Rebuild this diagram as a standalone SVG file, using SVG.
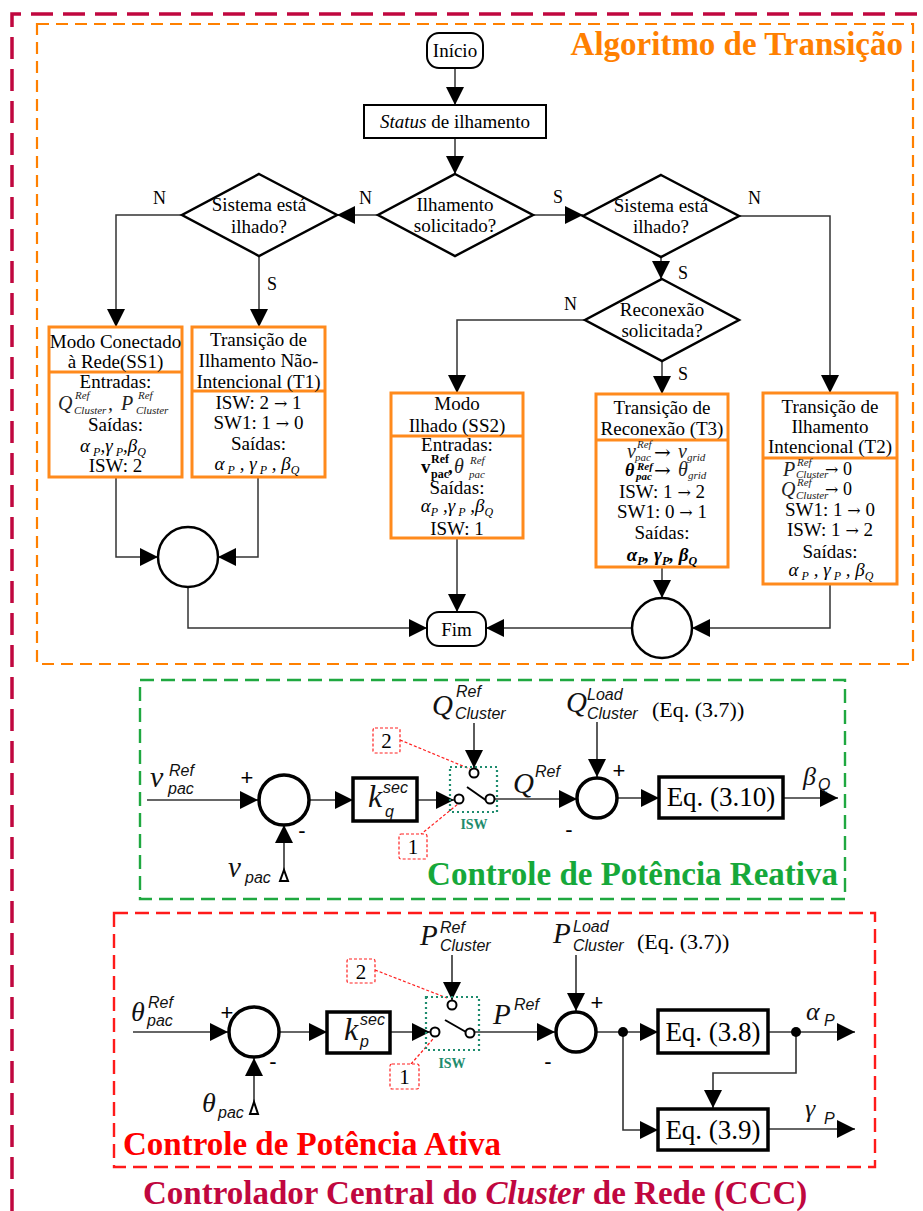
<svg xmlns="http://www.w3.org/2000/svg" width="923" height="1211" viewBox="0 0 923 1211">
<defs>
  <marker id="ah" viewBox="0 0 18 18" markerWidth="18" markerHeight="18" markerUnits="userSpaceOnUse" refX="18" refY="9" orient="auto">
    <path d="M0,0 L18,9 L0,18 z" fill="#000"/>
  </marker>
  <style>
    .t { font-family: "Liberation Serif", serif; font-size: 19px; fill: #000; text-anchor: middle; }
    .lbl { font-family: "Liberation Serif", serif; font-size: 18px; fill: #000; }
    .ar { font-family: "DejaVu Serif", serif; font-size: 16px; }
    .ar2 { font-family: "DejaVu Serif", serif; font-size: 20px; }
    .i { font-style: italic; }
    .ms { font-family: "Liberation Serif", serif; font-style: italic; font-size: 11px; fill: #222; }
    .mi { font-family: "Liberation Serif", serif; font-style: italic; font-size: 20px; fill: #222; }
    .sb { font-size: 12px; }
    .ob { fill: #fff; stroke: #FF8A1C; stroke-width: 3; }
    .obl { fill: none; stroke: #FF8A1C; stroke-width: 3; }
    .dm { fill: #fff; stroke: #000; stroke-width: 2.5; }
    .fl { fill: none; stroke: #333; stroke-width: 1.5; }
    .ln { fill: none; stroke: #333; stroke-width: 1.6; }
    .thk { fill: #fff; stroke: #000; stroke-width: 3.5; }
    .mI { font-family: "Liberation Serif", serif; font-style: italic; fill: #111; }
    .mS { font-family: "Liberation Sans", sans-serif; font-style: italic; fill: #111; font-size: 16px; }
    .eq { font-family: "Liberation Serif", serif; font-size: 27px; fill: #000; text-anchor: middle; }
    .pm { font-family: "Liberation Sans", sans-serif; font-size: 22px; fill: #000; text-anchor: middle; }
    .sw { fill: #fff; stroke: #000; stroke-width: 2; }
    .isw { fill: none; stroke: #1E8C6E; stroke-width: 2.2; stroke-dasharray: 2 3; }
    .iswt { font-family: "Liberation Serif", serif; font-weight: bold; font-size: 14px; fill: #1E8C6E; text-anchor: middle; }
    .rb { fill: #fff; stroke: #FF2020; stroke-width: 1.2; stroke-dasharray: 3 2; }
    .rl { fill: none; stroke: #FF2020; stroke-width: 1.2; stroke-dasharray: 3 2; }
    .num { font-family: "Liberation Serif", serif; font-size: 21px; fill: #000; text-anchor: middle; }
    .ttl { font-family: "Liberation Serif", serif; font-weight: bold; font-size: 33px; }
  </style>
</defs>

<rect width="923" height="1211" fill="#fff"/>

<!-- frames -->
<g id="frames">
  <path d="M12,1211 V14 H923" fill="none" stroke="#C0073F" stroke-width="3.5" stroke-dasharray="22 10"/>
  <rect x="37" y="24" width="876" height="640" fill="none" stroke="#FF8000" stroke-width="2.2" stroke-dasharray="12 7"/>
  <rect x="140" y="680" width="705" height="219" fill="none" stroke="#1FA840" stroke-width="2.4" stroke-dasharray="14 7"/>
  <rect x="114" y="913" width="761" height="254" fill="none" stroke="#FF1A1A" stroke-width="2.4" stroke-dasharray="14 7"/>
  <text class="ttl" x="903" y="55" font-size="32.7" text-anchor="end" fill="#FF8000">Algoritmo de Transição</text>
  <text class="ttl" x="838" y="885" text-anchor="end" fill="#16A83A">Controle de Potência Reativa</text>
  <text class="ttl" x="123" y="1155" fill="#FF0000">Controle de Potência Ativa</text>
  <text class="ttl" x="143" y="1204" font-size="34" fill="#C0073F">Controlador Central do <tspan font-style="italic">Cluster</tspan> de Rede (CCC)</text>
</g>

<!-- flowchart connectors -->
<g id="flow-connectors">
  <path class="fl" d="M455,68 V105" marker-end="url(#ah)"/>
  <path class="fl" d="M455,138 V174" marker-end="url(#ah)"/>
  <path class="fl" d="M378,215 H337" marker-end="url(#ah)"/>
  <path class="fl" d="M182,215 H116 V327" marker-end="url(#ah)"/>
  <path class="fl" d="M259,256 V327" marker-end="url(#ah)"/>
  <path class="fl" d="M533,215 H583" marker-end="url(#ah)"/>
  <path class="fl" d="M739,216 H830 V393" marker-end="url(#ah)"/>
  <path class="fl" d="M661,257 V279" marker-end="url(#ah)"/>
  <path class="fl" d="M585,320 H457 V393" marker-end="url(#ah)"/>
  <path class="fl" d="M662,361 V394" marker-end="url(#ah)"/>
  <path class="fl" d="M116,477 V557 H158" marker-end="url(#ah)"/>
  <path class="fl" d="M258,477 V557 H218" marker-end="url(#ah)"/>
  <path class="fl" d="M188,587 V628 H427" marker-end="url(#ah)"/>
  <path class="fl" d="M457,538 V612" marker-end="url(#ah)"/>
  <path class="fl" d="M662,567 V598" marker-end="url(#ah)"/>
  <path class="fl" d="M830,584 V628 H692" marker-end="url(#ah)"/>
  <path class="fl" d="M632,628 H486" marker-end="url(#ah)"/>
  <text class="lbl" x="153" y="204">N</text>
  <text class="lbl" x="359" y="204">N</text>
  <text class="lbl" x="267" y="290">S</text>
  <text class="lbl" x="553" y="203">S</text>
  <text class="lbl" x="748" y="204">N</text>
  <text class="lbl" x="678" y="279">S</text>
  <text class="lbl" x="564" y="310">N</text>
  <text class="lbl" x="678" y="380">S</text>
</g>

<g id="inicio">
  <rect x="427" y="33" width="56" height="35" rx="12" fill="#fff" stroke="#000" stroke-width="2"/>
  <text class="t" x="455" y="57">Início</text>
</g>

<g id="status">
  <rect x="364" y="105" width="182" height="33" fill="#fff" stroke="#000" stroke-width="2"/>
  <text class="t" x="455" y="128"><tspan class="i">Status</tspan> de ilhamento</text>
</g>

<g id="d-ilhamento">
  <polygon class="dm" points="455,174 533,215 455,256 378,215"/>
  <text class="t" x="455" y="211">Ilhamento</text>
  <text class="t" x="455" y="232">solicitado?</text>
</g>

<g id="d-ilhado-esq">
  <polygon class="dm" points="259,174 337,215 259,256 182,215"/>
  <text class="t" x="259" y="211">Sistema está</text>
  <text class="t" x="259" y="233">ilhado?</text>
</g>

<g id="d-ilhado-dir">
  <polygon class="dm" points="661,175 739,216 661,257 583,216"/>
  <text class="t" x="661" y="212">Sistema está</text>
  <text class="t" x="661" y="233">ilhado?</text>
</g>

<g id="d-reconexao">
  <polygon class="dm" points="662,279 739,320 662,361 585,320"/>
  <text class="t" x="662" y="316">Reconexão</text>
  <text class="t" x="662" y="337">solicitada?</text>
</g>

<g id="ss1">
  <rect class="ob" x="49" y="327" width="133" height="150"/>
  <line class="obl" x1="49" y1="372" x2="182" y2="372"/>
  <text class="t" x="115.5" y="348">Modo Conectado</text>
  <text class="t" x="115.5" y="368">à Rede(SS1)</text>
  <text class="t" x="115.5" y="388">Entradas:</text>
  <text class="mi" x="58" y="410">Q</text>
  <text class="ms" x="75" y="399">Ref</text>
  <text class="ms" x="74" y="414">Cluster</text>
  <text class="mi" x="108" y="410">,</text>
  <text class="mi" x="121" y="410">P</text>
  <text class="ms" x="138" y="399">Ref</text>
  <text class="ms" x="136" y="414">Cluster</text>
  <text class="t" x="115.5" y="431">Saídas:</text>
  <text class="t i" x="113" y="452" font-size="21">α<tspan class="sb" dy="4"> P</tspan><tspan dy="-4">,γ</tspan><tspan class="sb" dy="4"> P</tspan><tspan dy="-4">,β</tspan><tspan class="sb" dy="4">Q</tspan></text>
  <text class="t" x="115.5" y="472">ISW: 2</text>
</g>

<g id="t1">
  <rect class="ob" x="192" y="327" width="133" height="150"/>
  <line class="obl" x1="192" y1="391" x2="325" y2="391"/>
  <text class="t" x="258.5" y="346">Transição de</text>
  <text class="t" x="258.5" y="367">Ilhamento Não-</text>
  <text class="t" x="258.5" y="388">Intencional (T1)</text>
  <text class="t" x="258.5" y="409">ISW: 2 <tspan class="ar">→</tspan> 1</text>
  <text class="t" x="258.5" y="429">SW1: 1 <tspan class="ar">→</tspan> 0</text>
  <text class="t" x="258.5" y="450">Saídas:</text>
  <text class="t i" x="257" y="470" font-size="21" fill="#222">α<tspan class="sb" dy="4"> P</tspan><tspan dy="-4"> , γ</tspan><tspan class="sb" dy="4"> P</tspan><tspan dy="-4"> , β</tspan><tspan class="sb" dy="4">Q</tspan></text>
</g>

<g id="merge-esq">
  <circle cx="188" cy="557" r="30" fill="#fff" stroke="#000" stroke-width="2.5"/>
</g>

<g id="ss2">
  <rect class="ob" x="391" y="393" width="132" height="145"/>
  <line class="obl" x1="391" y1="436" x2="523" y2="436"/>
  <text class="t" x="457" y="410">Modo</text>
  <text class="t" x="457" y="432">Ilhado (SS2)</text>
  <text class="t" x="457" y="451">Entradas:</text>
  <text x="421" y="473" font-family="Liberation Serif, serif" font-weight="bold" font-size="19">v</text>
  <text x="431" y="463" font-family="Liberation Serif, serif" font-weight="bold" font-size="12">Ref</text>
  <text x="431" y="478" font-family="Liberation Serif, serif" font-weight="bold" font-size="12">pac</text>
  <text x="448" y="473" font-family="Liberation Serif, serif" font-weight="bold" font-size="19">,</text>
  <text class="mi" x="454" y="473" font-size="20">θ</text>
  <text class="ms" x="470" y="464" font-size="13">Ref</text>
  <text class="ms" x="469" y="478" font-size="13">pac</text>
  <text class="t" x="457" y="494">Saídas:</text>
  <text class="t i" x="457" y="512" font-size="21" fill="#222">α<tspan class="sb" dy="4">P</tspan><tspan dy="-4"> ,γ</tspan><tspan class="sb" dy="4"> P</tspan><tspan dy="-4"> ,β</tspan><tspan class="sb" dy="4">Q</tspan></text>
  <text class="t" x="457" y="535">ISW: 1</text>
</g>

<g id="t3">
  <rect class="ob" x="596" y="394" width="132" height="173"/>
  <line class="obl" x1="596" y1="440" x2="728" y2="440"/>
  <text class="t" x="662" y="414">Transição de</text>
  <text class="t" x="662" y="435">Reconexão (T3)</text>
  <text class="mi" x="627" y="458" font-size="18">v</text>
  <text class="ms" x="637" y="448" font-size="11">Ref</text>
  <text class="ms" x="635" y="461" font-size="11">pac</text>
  <text class="ar2" x="654" y="459">→</text>
  <text class="mi" x="678" y="458" font-size="18">v</text>
  <text class="ms" x="687" y="461" font-size="11">grid</text>
  <text x="625" y="476" font-family="Liberation Serif, serif" font-style="italic" font-weight="bold" font-size="18">θ</text>
  <text x="637" y="470" font-family="Liberation Serif, serif" font-style="italic" font-weight="bold" font-size="11">Ref</text>
  <text x="636" y="480" font-family="Liberation Serif, serif" font-style="italic" font-weight="bold" font-size="11">pac</text>
  <text class="ar2" x="654" y="477">→</text>
  <text class="mi" x="678" y="476" font-size="18">θ</text>
  <text class="ms" x="688" y="479" font-size="11">grid</text>
  <text class="t" x="662" y="498">ISW: 1 <tspan class="ar">→</tspan>  2</text>
  <text class="t" x="662" y="518">SW1: 0 <tspan class="ar">→</tspan> 1</text>
  <text class="t" x="662" y="539">Saídas:</text>
  <text class="t i" x="662" y="561" font-size="20" font-weight="bold">α<tspan class="sb" dy="4">P</tspan><tspan dy="-4">, γ</tspan><tspan class="sb" dy="4">P</tspan><tspan dy="-4">, β</tspan><tspan class="sb" dy="4">Q</tspan></text>
</g>

<g id="t2">
  <rect class="ob" x="763" y="393" width="134" height="191"/>
  <line class="obl" x1="763" y1="458" x2="897" y2="458"/>
  <text class="t" x="830" y="413">Transição de</text>
  <text class="t" x="830" y="433">Ilhamento</text>
  <text class="t" x="830" y="453">Intencional (T2)</text>
  <text class="mi" x="783" y="476" font-size="20">P</text>
  <text class="ms" x="797" y="466" font-size="11">Ref</text>
  <text class="ms" x="796" y="478" font-size="11">Cluster</text>
  <text class="ar" x="825" y="475">→</text>
  <text class="lbl" x="843" y="475" font-size="20">0</text>
  <text class="mi" x="781" y="496" font-size="20">Q</text>
  <text class="ms" x="797" y="486" font-size="11">Ref</text>
  <text class="ms" x="796" y="499" font-size="11">Cluster</text>
  <text class="ar" x="825" y="495">→</text>
  <text class="lbl" x="843" y="495" font-size="20">0</text>
  <text class="t" x="830" y="516">SW1: 1 <tspan class="ar">→</tspan> 0</text>
  <text class="t" x="830" y="536">ISW: 1 <tspan class="ar">→</tspan>  2</text>
  <text class="t" x="830" y="558">Saídas:</text>
  <text class="t i" x="831" y="576" font-size="21" fill="#222">α<tspan class="sb" dy="4"> P</tspan><tspan dy="-4"> , γ</tspan><tspan class="sb" dy="4"> P</tspan><tspan dy="-4"> , β</tspan><tspan class="sb" dy="4">Q</tspan></text>
</g>

<g id="merge-dir">
  <circle cx="662" cy="628" r="30" fill="#fff" stroke="#000" stroke-width="2.5"/>
</g>

<g id="fim">
  <rect x="427" y="612" width="59" height="34" rx="12" fill="#fff" stroke="#000" stroke-width="2"/>
  <text class="t" x="456.5" y="636">Fim</text>
</g>

<!-- reactive power control -->
<g id="q-connectors">
  <path class="ln" d="M147,800 H258" marker-end="url(#ah)"/>
  <path class="ln" d="M284,877 V825" marker-end="url(#ah)"/>
  <path class="ln" d="M309,800 H353" marker-end="url(#ah)"/>
  <path class="ln" d="M417,800 H454" marker-end="url(#ah)"/>
  <path class="ln" d="M474,723 V768" marker-end="url(#ah)"/>
  <path class="ln" d="M494,799 H577" marker-end="url(#ah)"/>
  <path class="ln" d="M597,722 V777" marker-end="url(#ah)"/>
  <path class="ln" d="M617,798 H659" marker-end="url(#ah)"/>
  <path class="ln" d="M783,798 H838" marker-end="url(#ah)"/>
  <path class="rl" d="M400,740 L470,769"/>
  <path class="rl" d="M420,835 L458,804"/>
</g>
<g id="q-labels">
  <text class="mI" x="150" y="787" font-size="30">v</text>
  <text class="mS" x="169" y="776">Ref</text>
  <text class="mS" x="168" y="794">pac</text>
  <text class="mI" x="228" y="877" font-size="29">v</text>
  <text class="mS" x="245" y="883">pac</text>
  <text class="pm" x="247" y="785">+</text>
  <text class="pm" x="302" y="838">-</text>
  <text class="mI" x="432" y="715" font-size="29">Q</text>
  <text class="mS" x="456" y="697">Ref</text>
  <text class="mS" x="455" y="719">Cluster</text>
  <text class="mI" x="513" y="793" font-size="29">Q</text>
  <text class="mS" x="535" y="777">Ref</text>
  <text class="mI" x="566" y="712" font-size="29">Q</text>
  <text class="mS" x="587" y="700">Load</text>
  <text class="mS" x="587" y="719">Cluster</text>
  <text class="pm" x="619" y="778">+</text>
  <text class="pm" x="569" y="837">-</text>
  <text x="652" y="717" font-family="Liberation Serif, serif" font-size="22">(Eq. (3.7))</text>
  <text class="mI" x="803" y="785" font-size="26">β</text>
  <text class="mS" x="818" y="790" font-size="15">Q</text>
</g>
<g id="q-sum1">
  <circle class="thk" cx="284" cy="800" r="25"/>
</g>
<g id="q-ref-tri">
  <polygon points="280,881 288,881 284,870" fill="#fff" stroke="#000" stroke-width="2"/>
</g>
<g id="q-gain">
  <rect class="thk" x="353" y="778" width="64" height="43"/>
  <text class="mI" x="368" y="807" font-size="32">k</text>
  <text class="mS" x="383" y="793">sec</text>
  <text class="mS" x="385" y="817" font-size="17">q</text>
</g>
<g id="q-isw">
  <rect class="isw" x="450" y="767" width="47" height="45"/>
  <line x1="467" y1="787" x2="487" y2="801" stroke="#000" stroke-width="2"/>
  <circle class="sw" cx="459" cy="799" r="4.5"/>
  <circle class="sw" cx="474" cy="773" r="4.5"/>
  <circle class="sw" cx="490" cy="799" r="4.5"/>
  <text class="iswt" x="474" y="829">ISW</text>
</g>
<g id="q-tag2">
  <rect class="rb" x="373" y="728" width="27" height="25" rx="2"/>
  <text class="num" x="386.5" y="748">2</text>
</g>
<g id="q-tag1">
  <rect class="rb" x="399" y="834" width="28" height="25" rx="2"/>
  <text class="num" x="413" y="854">1</text>
</g>
<g id="q-sum2">
  <circle class="thk" cx="597" cy="798" r="20"/>
</g>
<g id="q-eq310">
  <rect class="thk" x="659" y="777" width="124" height="41"/>
  <text class="eq" x="721" y="806">Eq. (3.10)</text>
</g>

<!-- active power control -->
<g id="p-connectors">
  <path class="ln" d="M133,1032 H228" marker-end="url(#ah)"/>
  <path class="ln" d="M254,1110 V1058" marker-end="url(#ah)"/>
  <path class="ln" d="M279,1032 H327" marker-end="url(#ah)"/>
  <path class="ln" d="M390,1032 H430" marker-end="url(#ah)"/>
  <path class="ln" d="M452,955 V1000" marker-end="url(#ah)"/>
  <path class="ln" d="M474,1032 H555" marker-end="url(#ah)"/>
  <path class="ln" d="M576,955 V1011" marker-end="url(#ah)"/>
  <path class="ln" d="M596,1032 H658" marker-end="url(#ah)"/>
  <path class="ln" d="M768,1032 H855" marker-end="url(#ah)"/>
  <path class="ln" d="M796,1032 V1073 H713 V1108" marker-end="url(#ah)"/>
  <path class="ln" d="M623,1032 V1130 H658" marker-end="url(#ah)"/>
  <path class="ln" d="M768,1129 H855" marker-end="url(#ah)"/>
  <circle cx="623" cy="1032" r="5" fill="#000"/>
  <circle cx="796" cy="1032" r="5" fill="#000"/>
  <path class="rl" d="M375,970 L447,998"/>
  <path class="rl" d="M411,1064 L433,1039"/>
</g>
<g id="p-labels">
  <text class="mI" x="131" y="1021" font-size="28">θ</text>
  <text class="mS" x="148" y="1008">Ref</text>
  <text class="mS" x="147" y="1026">pac</text>
  <text class="mI" x="202" y="1112" font-size="28">θ</text>
  <text class="mS" x="218" y="1118">pac</text>
  <text class="pm" x="227" y="1020">+</text>
  <text class="pm" x="273" y="1069">-</text>
  <text class="mI" x="420" y="945" font-size="29">P</text>
  <text class="mS" x="440" y="933">Ref</text>
  <text class="mS" x="440" y="951">Cluster</text>
  <text class="mI" x="493" y="1024" font-size="29">P</text>
  <text class="mS" x="514" y="1010">Ref</text>
  <text class="mI" x="553" y="943" font-size="29">P</text>
  <text class="mS" x="573" y="932">Load</text>
  <text class="mS" x="573" y="951">Cluster</text>
  <text class="pm" x="597" y="1010">+</text>
  <text class="pm" x="548" y="1069">-</text>
  <text x="637" y="949" font-family="Liberation Serif, serif" font-size="22">(Eq. (3.7))</text>
  <text class="mI" x="806" y="1020" font-size="26">α</text>
  <text class="mS" x="824" y="1026" font-size="15">P</text>
  <text class="mI" x="805" y="1117" font-size="26">γ</text>
  <text class="mS" x="824" y="1124" font-size="15">P</text>
</g>
<g id="p-sum1">
  <circle class="thk" cx="254" cy="1032" r="25"/>
</g>
<g id="p-ref-tri">
  <polygon points="250,1114 258,1114 254,1102" fill="#fff" stroke="#000" stroke-width="2"/>
</g>
<g id="p-gain">
  <rect class="thk" x="327" y="1012" width="63" height="41"/>
  <text class="mI" x="344" y="1040" font-size="32">k</text>
  <text class="mS" x="360" y="1025">sec</text>
  <text class="mS" x="360" y="1047" font-size="17">p</text>
</g>
<g id="p-isw">
  <rect class="isw" x="426" y="997" width="53" height="53"/>
  <line x1="445" y1="1020" x2="466" y2="1032" stroke="#000" stroke-width="2"/>
  <circle class="sw" cx="435" cy="1032" r="4.5"/>
  <circle class="sw" cx="452" cy="1005" r="4.5"/>
  <circle class="sw" cx="470" cy="1033" r="4.5"/>
  <text class="iswt" x="452" y="1068">ISW</text>
</g>
<g id="p-tag2">
  <rect class="rb" x="347" y="959" width="28" height="24" rx="2"/>
  <text class="num" x="361" y="979">2</text>
</g>
<g id="p-tag1">
  <rect class="rb" x="390" y="1064" width="29" height="25" rx="2"/>
  <text class="num" x="404.5" y="1084">1</text>
</g>
<g id="p-sum2">
  <circle class="thk" cx="576" cy="1032" r="20"/>
</g>
<g id="p-eq38">
  <rect class="thk" x="658" y="1010" width="110" height="43"/>
  <text class="eq" x="713" y="1041">Eq. (3.8)</text>
</g>
<g id="p-eq39">
  <rect class="thk" x="658" y="1109" width="110" height="41"/>
  <text class="eq" x="713" y="1139">Eq. (3.9)</text>
</g>
</svg>
